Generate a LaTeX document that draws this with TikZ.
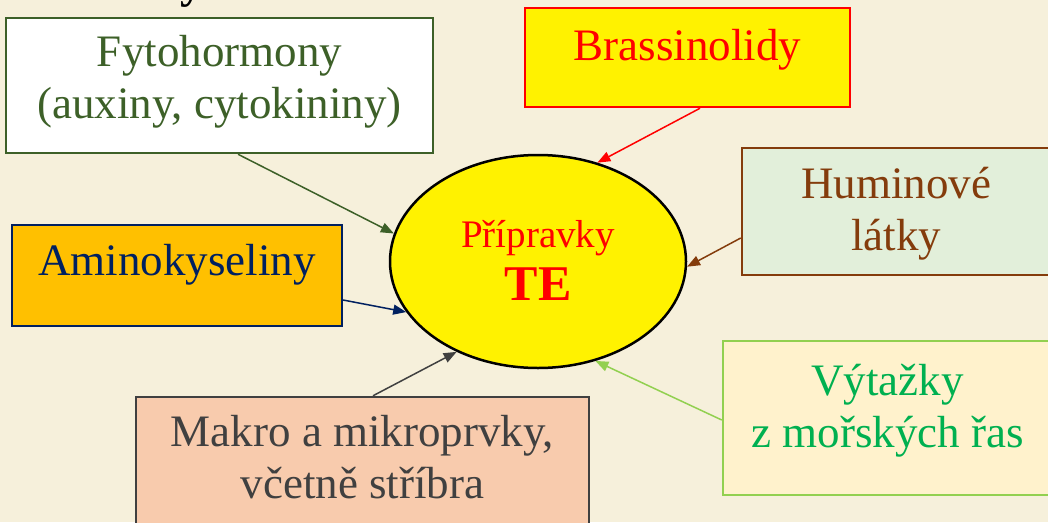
\documentclass[tikz,border=0pt]{standalone}
\usepackage{fontspec}
\setmainfont{Liberation Serif}
\usetikzlibrary{shapes.geometric, arrows.meta, positioning}

\definecolor{bgcream}{RGB}{246,240,219}
\definecolor{fytogreen}{RGB}{61,96,40}
\definecolor{huminbrown}{RGB}{132,60,12}
\definecolor{huminfill}{RGB}{226,239,218}
\definecolor{aminonavy}{RGB}{0,32,96}
\definecolor{aminofill}{RGB}{255,192,0}
\definecolor{makrogray}{RGB}{64,64,64}
\definecolor{makrofill}{RGB}{248,203,173}
\definecolor{vytlime}{RGB}{146,208,80}
\definecolor{vytgreen}{RGB}{0,176,80}
\definecolor{vytfill}{RGB}{255,242,204}

\begin{document}
\begin{tikzpicture}[
    x=1pt, y=-1pt,
    >={Triangle[length=13pt,width=10pt]},
    box/.style={draw, line width=2.5pt, inner sep=0pt, align=center, font=\fontsize{45}{52}\selectfont},
    feed/.style={->, line width=1.5pt},
  ]
  \useasboundingbox[fill=bgcream] (0,0) rectangle (1048,522);
  \node[font=\fontsize{46}{52}\selectfont\bfseries, anchor=base] (title) at (192,-2.5) {y};
  % the central ellipse
  \node[ellipse, draw=black, line width=2.5pt, fill=yellow, minimum width=296pt, minimum height=213pt,
        inner sep=0pt, align=center, text=red, font=\fontsize{39}{53}\selectfont,
        text height=87pt, text depth=10pt] (te) at (538,261.5)
        {Přípravky\\{\fontsize{50}{53}\selectfont\bfseries TE}};
  % the sources
  \node[box, color=fytogreen, fill=white, minimum width=427pt, minimum height=135pt,
        text height=75pt, text depth=10pt] (fyto) at (219.5,85.5) {Fytohormony\\(auxiny, cytokininy)};
  \node[box, draw=red, fill=yellow, text=red, minimum width=325pt, minimum height=99pt,
        text height=30pt, text depth=25pt] (brass) at (687.5,57.5) {Brassinolidy};
  \node[box, color=huminbrown, fill=huminfill, minimum width=308pt, minimum height=127pt,
        text height=87pt, text depth=10pt] (humin) at (896,211.5) {Huminové\\látky};
  \node[box, color=aminonavy, fill=aminofill, line width=2pt, minimum width=330pt, minimum height=101pt,
        text height=25pt, text depth=26pt] (amino) at (177,275.5) {Aminokyseliny};
  \node[box, color=makrogray, fill=makrofill, minimum width=453pt, minimum height=143pt,
        text height=69pt, text depth=10pt] (makro) at (362.5,468.5) {Makro a mikroprvky,\\včetně stříbra};
  \node[box, draw=vytlime, fill=vytfill, text=vytgreen, minimum width=329pt, minimum height=154pt,
        text height=68pt, text depth=10pt] (vyt) at (887.5,418) {Výtažky\\z mořských řas};
  % arrows into the ellipse
  \draw[feed, fytogreen] ([xshift=18.5pt]fyto.south) -- (te.169);
  \draw[feed, red] ([xshift=12.5pt]brass.south) -- (te.59);
  \draw[feed, huminbrown] ([yshift=-26.5pt]humin.west) -- (te.358);
  \draw[feed, aminonavy] ([yshift=-24.5pt]amino.east) -- (te.201);
  \draw[feed, makrogray] ([xshift=10.5pt]makro.north) -- (te.228);
  \draw[feed, vytlime] ([yshift=-2pt]vyt.west) -- (te.300);
\end{tikzpicture}
\end{document}
